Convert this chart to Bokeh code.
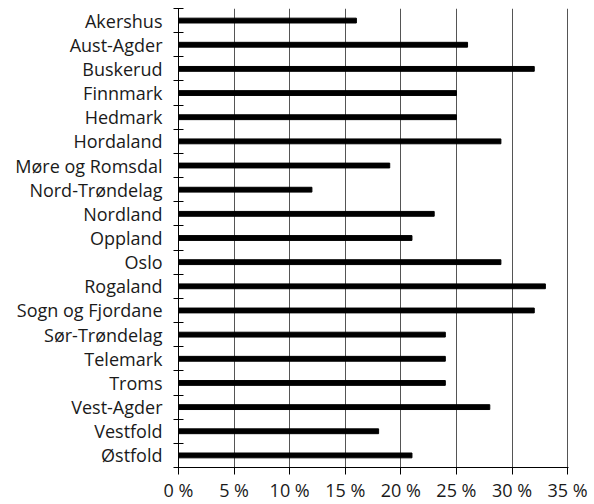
from bokeh.plotting import figure
from bokeh.models import Range1d, FixedTicker
from bokeh.embed import file_html
from bokeh.resources import INLINE

counties = ["Akershus", "Aust-Agder", "Buskerud", "Finnmark", "Hedmark", "Hordaland",
            "Møre og Romsdal", "Nord-Trøndelag", "Nordland", "Oppland", "Oslo", "Rogaland",
            "Sogn og Fjordane", "Sør-Trøndelag", "Telemark", "Troms", "Vest-Agder",
            "Vestfold", "Østfold"]
values = [16, 26, 32, 25, 25, 29, 19, 12, 23, 21, 29, 33, 32, 24, 24, 24, 28, 18, 21]
x_ticks = [0, 5, 10, 15, 20, 25, 30, 35]
x_tick_labels = ["0 %", "5 %", "10 %", "15 %", "20 %", "25 %", "30 %", "35 %"]

n = len(counties)
idx = list(range(n))

p = figure(width=594, height=504, output_backend="svg", toolbar_location=None,
           x_range=Range1d(0, 35.08), y_range=Range1d(n - 0.5, -0.5),
           min_border_left=178, min_border_right=26, min_border_top=8, min_border_bottom=30)
p.outline_line_color = None
p.background_fill_color = "white"

p.hbar(y=idx, right=values, left=0, height=0.2, color="black")

FONT = "Open Sans"
# x axis
p.xaxis.ticker = FixedTicker(ticks=x_ticks)
p.xaxis.major_label_overrides = {t: l for t, l in zip(x_ticks, x_tick_labels)}
p.xaxis.major_tick_in = 0
p.xaxis.major_tick_out = 7
p.xaxis.minor_tick_line_color = None
p.xaxis.axis_line_color = "black"
p.xaxis.major_tick_line_color = "black"
p.xaxis.major_label_text_font = FONT
p.xaxis.major_label_text_font_size = "18px"
p.xaxis.major_label_text_color = "#1a1a1a"
p.xaxis.major_label_standoff = 3

# y axis
p.yaxis.ticker = FixedTicker(ticks=idx, minor_ticks=[i - 0.5 for i in range(n + 1)])
p.yaxis.major_label_overrides = {i: c for i, c in zip(idx, counties)}
p.yaxis.major_tick_line_color = None
p.yaxis.major_tick_out = 0
p.yaxis.major_tick_in = 0
p.yaxis.minor_tick_in = 5
p.yaxis.minor_tick_out = 5
p.yaxis.minor_tick_line_color = "black"
p.yaxis.axis_line_color = "black"
p.yaxis.major_label_text_font = FONT
p.yaxis.major_label_text_font_size = "18px"
p.yaxis.major_label_text_color = "#1a1a1a"
p.yaxis.major_label_standoff = 11

p.xgrid.grid_line_color = "#555555"
p.xgrid.grid_line_width = 1
p.ygrid.grid_line_color = None

open("out.html", "w").write(file_html(p, INLINE))
